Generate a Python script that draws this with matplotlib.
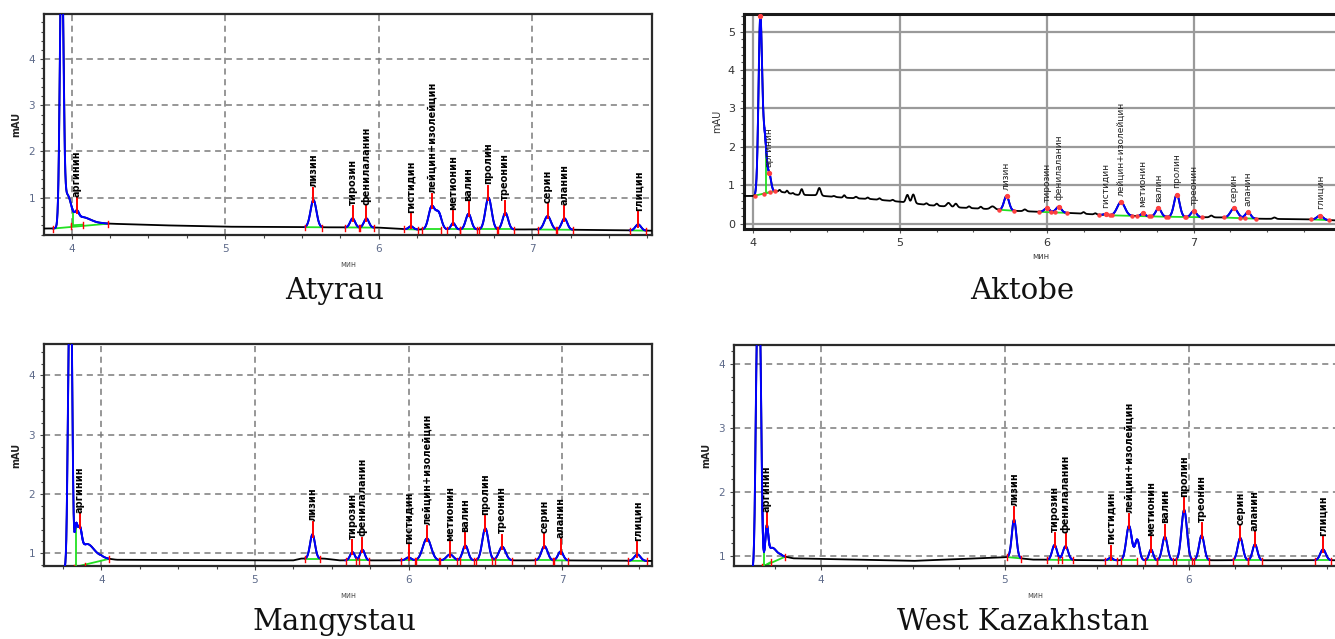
import numpy as np
import matplotlib
matplotlib.use('Agg')
import matplotlib.pyplot as plt
from matplotlib.ticker import MultipleLocator

# ---------------- data ----------------
amino_names = ['аргинин', 'лизин', 'тирозин', 'фенилаланин', 'гистидин',
               'лейцин+изолейцин', 'метионин', 'валин', 'пролин', 'треонин',
               'серин', 'аланин', 'глицин']
panel_titles = ['Atyrau', 'Aktobe', 'Mangystau', 'West Kazakhstan']

# Atyrau: labelled peaks (retention time min, peak top mAU, width min)
atyrau_rt = [4.035, 5.575, 5.83, 5.92, 6.21, 6.345, 6.485, 6.585, 6.715, 6.825, 7.10, 7.21, 7.69]
atyrau_apex = [0.55, 0.95, 0.55, 0.55, 0.38, 0.80, 0.45, 0.65, 1.00, 0.67, 0.60, 0.55, 0.42]
atyrau_sigma = [0.012, 0.019, 0.016, 0.016, 0.015, 0.020, 0.014, 0.018, 0.020, 0.018, 0.021, 0.018, 0.018]
atyrau_main_rt = [3.935, 3.97, 4.06]
atyrau_main_apex = [6.5, 1.0, 0.58]
atyrau_main_sigma = [0.011, 0.025, 0.06]
atyrau_sh_rt = [6.39]
atyrau_sh_apex = [0.66]
atyrau_sh_sigma = [0.019]
atyrau_base_t = [3.80, 3.90, 4.00, 4.20, 4.60, 5.00, 5.50, 6.00, 6.20, 7.00, 7.40, 7.85]
atyrau_base_y = [0.33, 0.33, 0.40, 0.44, 0.40, 0.37, 0.36, 0.35, 0.31, 0.31, 0.30, 0.28]

# Aktobe
aktobe_rt = [4.11, 5.725, 6.00, 6.08, 6.40, 6.505, 6.655, 6.76, 6.885, 7.00, 7.275, 7.37, 7.86]
aktobe_apex = [1.25, 0.72, 0.40, 0.44, 0.25, 0.56, 0.27, 0.40, 0.76, 0.33, 0.40, 0.30, 0.21]
aktobe_sigma = [0.012, 0.017, 0.018, 0.018, 0.014, 0.026, 0.014, 0.018, 0.019, 0.018, 0.024, 0.018, 0.020]
aktobe_main_rt = [4.048, 4.078]
aktobe_main_apex = [5.35, 2.2]
aktobe_main_sigma = [0.012, 0.013]
aktobe_sh_rt = []
aktobe_sh_apex = []
aktobe_sh_sigma = []
aktobe_bump_rt = [4.18, 4.23, 4.27, 4.33, 4.45, 4.55, 4.62, 4.70, 4.78, 4.86, 4.95, 5.05, 5.09,
                  5.18, 5.25, 5.33, 5.38, 5.47, 5.55, 5.63, 5.85, 6.25, 6.33, 7.12, 7.55]
aktobe_bump_apex = [0.88, 0.86, 0.80, 0.90, 0.93, 0.72, 0.74, 0.70, 0.68, 0.66, 0.62, 0.75, 0.76,
                    0.53, 0.52, 0.54, 0.52, 0.45, 0.44, 0.45, 0.37, 0.30, 0.27, 0.21, 0.16]
aktobe_bump_sigma = [0.006, 0.006, 0.006, 0.008, 0.010, 0.008, 0.007, 0.008, 0.007, 0.008, 0.008,
                     0.010, 0.010, 0.008, 0.008, 0.012, 0.010, 0.008, 0.008, 0.015, 0.010, 0.008,
                     0.008, 0.010, 0.010]
aktobe_base_t = [3.93, 4.00, 4.15, 4.20, 4.30, 4.42, 4.60, 4.80, 5.00, 5.20, 5.40, 5.60, 5.80,
                 6.00, 6.20, 6.40, 6.60, 6.80, 7.00, 7.20, 7.40, 7.60, 7.80, 8.00]
aktobe_base_y = [0.72, 0.72, 0.85, 0.82, 0.75, 0.74, 0.68, 0.64, 0.57, 0.48, 0.42, 0.38, 0.33,
                 0.30, 0.27, 0.22, 0.20, 0.18, 0.17, 0.16, 0.13, 0.12, 0.11, 0.08]

# Mangystau
mang_rt = [3.86, 5.375, 5.635, 5.70, 6.00, 6.12, 6.27, 6.37, 6.50, 6.61, 6.885, 6.99, 7.49]
mang_apex = [1.18, 1.32, 1.02, 1.06, 0.93, 1.25, 0.98, 1.13, 1.42, 1.11, 1.12, 1.03, 0.98]
mang_sigma = [0.012, 0.016, 0.015, 0.015, 0.017, 0.027, 0.022, 0.018, 0.020, 0.022, 0.020, 0.017, 0.020]
mang_main_rt = [3.79, 3.805, 3.835, 3.90]
mang_main_apex = [4.3, 4.4, 1.3, 1.15]
mang_main_sigma = [0.009, 0.008, 0.010, 0.05]
mang_sh_rt = []
mang_sh_apex = []
mang_sh_sigma = []
mang_base_t = [3.60, 3.75, 3.90, 4.00, 4.10, 5.00, 5.25, 5.30, 5.45, 5.55, 6.00, 7.00, 7.60]
mang_base_y = [0.70, 0.72, 0.80, 0.92, 0.89, 0.88, 0.88, 0.91, 0.91, 0.88, 0.88, 0.88, 0.87]

# West Kazakhstan
wk_rt = [3.705, 5.05, 5.27, 5.33, 5.575, 5.675, 5.795, 5.87, 5.975, 6.07, 6.28, 6.36, 6.73]
wk_apex = [1.35, 1.57, 1.17, 1.15, 0.97, 1.47, 1.10, 1.30, 1.72, 1.32, 1.28, 1.18, 1.10]
wk_sigma = [0.008, 0.012, 0.013, 0.014, 0.011, 0.015, 0.011, 0.014, 0.015, 0.014, 0.014, 0.013, 0.015]
wk_main_rt = [3.652, 3.668, 3.73]
wk_main_apex = [4.1, 4.3, 1.12]
wk_main_sigma = [0.008, 0.008, 0.025]
wk_sh_rt = [5.72]
wk_sh_apex = [1.25]
wk_sh_sigma = [0.012]
wk_base_t = [3.50, 3.62, 3.70, 3.78, 3.85, 4.50, 4.95, 5.02, 5.15, 5.50, 6.80]
wk_base_y = [0.70, 0.75, 0.85, 1.00, 0.96, 0.92, 0.97, 0.98, 0.94, 0.93, 0.93]

# x / y ranges
atyrau_xlim, atyrau_ylim = (3.82, 7.78), (0.19, 4.98)
aktobe_xlim, aktobe_ylim = (3.937, 7.976), (-0.14, 5.46)
mang_xlim, mang_ylim = (3.627, 7.585), (0.785, 4.53)
wk_xlim, wk_ylim = (3.527, 6.806), (0.84, 4.30)

# ---------------- drawing ----------------
W, H = 1335, 639
fig = plt.figure(figsize=(W / 100, H / 100), dpi=100)


def rect(l, t, r, b):
    return [l / W, 1 - b / H, (r - l) / W, (b - t) / H]


def peak_curve(t, rts, apexes, sigmas, bt, by):
    out = np.zeros_like(t)
    for r, a, s in zip(rts, apexes, sigmas):
        h = a - np.interp(r, bt, by)
        out += h * np.exp(-0.5 * ((t - r) / s) ** 2)
    return out


def draw(ax, rt, apex, sig, mrt, mapex, msig, srt, sapex, ssig, bt, by, xlim, ylim,
         yticks, xticks, aktobe=False, brt=(), bapex=(), bsig=()):
    t = np.arange(xlim[0] - 0.05, xlim[1] + 0.05, 0.003)
    base = np.interp(t, bt, by)
    y = (base + peak_curve(t, rt, apex, sig, bt, by) + peak_curve(t, mrt, mapex, msig, bt, by)
         + peak_curve(t, srt, sapex, ssig, bt, by) + peak_curve(t, brt, bapex, bsig, bt, by))
    yr = ylim[1] - ylim[0]
    green = '#22e022'
    ax.plot(t, y, color='black', lw=1.3, zorder=3)

    regions = [(r - 3 * s, r + 3 * s) for r, s in zip(rt, sig)]
    regions.append((min(r - 3 * s for r, s in zip(mrt, msig)),
                    max(r + 3 * s for r, s in zip(mrt, msig))))
    for a, b in regions + [(r - 3 * s, r + 3 * s) for r, s in zip(srt, ssig)]:
        m = (t >= a) & (t <= b)
        ax.plot(t[m], y[m], color='#0000ff', lw=1.4, zorder=4)
    for a, b in regions:
        ya, yb = np.interp(a, bt, by), np.interp(b, bt, by)
        ax.plot([a, b], [ya, yb], color=green, lw=1.3, zorder=2.5)
        if aktobe:
            ax.plot([a, b], [ya, yb], 'o', color='#ff4040', ms=2.2, zorder=5)
        else:
            for xx, yy in ((a, ya), (b, yb)):
                ax.plot([xx, xx], [yy - 0.015 * yr, yy + 0.012 * yr], color='red', lw=1.0, zorder=5)
    # arginine perpendicular drop
    xa = rt[0] - 2 * sig[0]
    ax.plot([xa, xa], [np.interp(xa, bt, by), np.interp(xa, t, y)], color=green, lw=1.3, zorder=2.6)
    # apex markers and labels
    for r, name in zip(list(rt), amino_names):
        ya = np.interp(r, t, y)
        if aktobe:
            ax.plot([r], [ya], 'o', color='#ff4040', ms=2.8, zorder=6)
            ax.text(r, ya + 0.03 * yr, name, rotation=90, ha='center', va='bottom',
                    fontsize=6.5, color='#222222', zorder=7)
        else:
            ax.plot([r, r], [ya - 0.01 * yr, ya + 0.055 * yr], color='red', lw=1.4, zorder=6)
            ax.text(r, ya + 0.06 * yr, name, rotation=90, ha='center', va='bottom',
                    fontsize=7, fontweight='bold', color='black', zorder=7)
    rmain = mrt[int(np.argmax(mapex))]
    ya = np.interp(rmain, t, y)
    if aktobe:
        ax.plot([rmain], [ya], 'o', color='#ff4040', ms=2.8, zorder=6)
    else:
        ax.plot([rmain, rmain], [ya - 0.03 * yr, ya + 0.05 * yr], color='red', lw=1.4, zorder=6)

    ax.set_xlim(*xlim)
    ax.set_ylim(*ylim)
    ax.set_xticks(xticks)
    ax.set_yticks(yticks)
    ax.xaxis.set_minor_locator(MultipleLocator(0.25))
    ax.yaxis.set_minor_locator(MultipleLocator(0.2))
    if aktobe:
        ax.grid(True, which='major', color='#9a9a9a', lw=1.6, ls='-', zorder=0)
        for s in ax.spines.values():
            s.set_linewidth(2.2)
            s.set_color('#1a1a1a')
        ax.tick_params(which='both', direction='out', color='#555555', labelsize=8,
                       labelcolor='#333333', length=3, width=0.8)
        ax.tick_params(which='minor', length=2)
        ax.set_ylabel('mAU', fontsize=7, color='#333333', labelpad=4)
        ax.set_xlabel('мин', fontsize=6, color='#444444', labelpad=3)
    else:
        ax.grid(True, which='major', color='#7a7a7a', lw=1.1, ls=(0, (4, 3)), zorder=0)
        for s in ax.spines.values():
            s.set_linewidth(1.6)
            s.set_color('#2a2a2a')
        ax.tick_params(which='both', direction='out', color='#444444', labelsize=7.5,
                       labelcolor='#5d6a8a', length=3, width=0.8)
        ax.tick_params(which='minor', length=2)
        ax.set_ylabel('mAU', fontsize=7, fontweight='bold', color='#222222', labelpad=5)
        ax.set_xlabel('мин', fontsize=5.5, color='#555555', labelpad=4)
    ax.set_axisbelow(True)


ax1 = fig.add_axes(rect(44, 14, 652, 235))
draw(ax1, atyrau_rt, atyrau_apex, atyrau_sigma, atyrau_main_rt, atyrau_main_apex, atyrau_main_sigma,
     atyrau_sh_rt, atyrau_sh_apex, atyrau_sh_sigma,
     atyrau_base_t, atyrau_base_y, atyrau_xlim, atyrau_ylim, [1, 2, 3, 4], [4, 5, 6, 7])

ax2 = fig.add_axes(rect(744, 14, 1337, 229))
draw(ax2, aktobe_rt, aktobe_apex, aktobe_sigma, aktobe_main_rt, aktobe_main_apex, aktobe_main_sigma,
     aktobe_sh_rt, aktobe_sh_apex, aktobe_sh_sigma,
     aktobe_base_t, aktobe_base_y, aktobe_xlim, aktobe_ylim, [0, 1, 2, 3, 4, 5], [4, 5, 6, 7],
     aktobe=True, brt=aktobe_bump_rt, bapex=aktobe_bump_apex, bsig=aktobe_bump_sigma)

ax3 = fig.add_axes(rect(44, 344, 652, 566))
draw(ax3, mang_rt, mang_apex, mang_sigma, mang_main_rt, mang_main_apex, mang_main_sigma,
     mang_sh_rt, mang_sh_apex, mang_sh_sigma,
     mang_base_t, mang_base_y, mang_xlim, mang_ylim, [1, 2, 3, 4], [4, 5, 6, 7])

ax4 = fig.add_axes(rect(734, 345, 1337, 566))
draw(ax4, wk_rt, wk_apex, wk_sigma, wk_main_rt, wk_main_apex, wk_main_sigma,
     wk_sh_rt, wk_sh_apex, wk_sh_sigma,
     wk_base_t, wk_base_y, wk_xlim, wk_ylim, [1, 2, 3, 4], [4, 5, 6])

title_pos = [(335, 299), (1022, 299), (334, 630), (1023, 630)]
for (px, py), title in zip(title_pos, panel_titles):
    fig.text(px / W, 1 - py / H, title, family='DejaVu Serif', fontsize=21,
             ha='center', va='baseline', color='#111111')

fig.savefig('out.png', dpi=100)
